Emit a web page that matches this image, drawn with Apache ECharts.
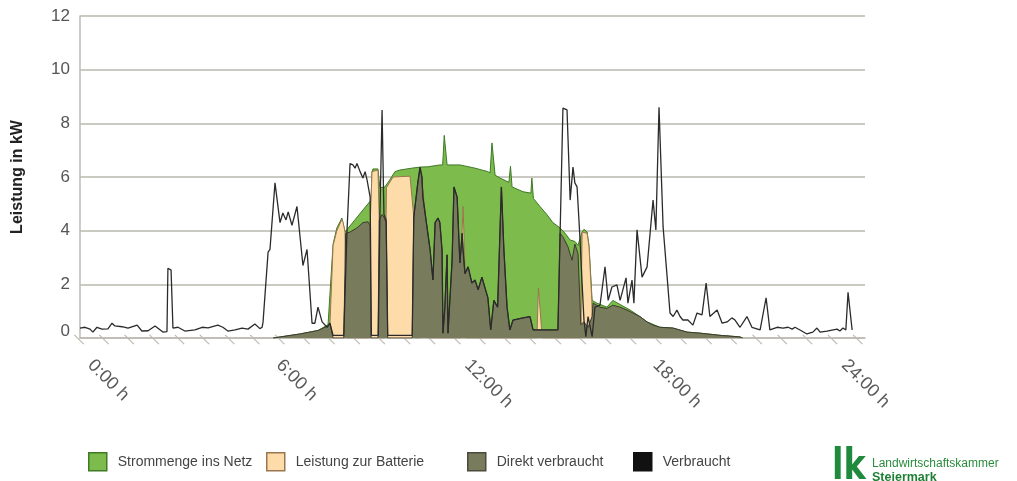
<!DOCTYPE html>
<html>
<head>
<meta charset="utf-8">
<script src="https://cdn.jsdelivr.net/npm/echarts@6/dist/echarts.min.js"></script>
<style>
html,body{margin:0;padding:0;background:#fff;}
#chart{width:1017px;height:481px;}
</style>
</head>
<body>
<div id="chart"></div>
<script>
// hour labels on the x axis
var hourLabels = [0, 6, 12, 18, 24];
var yTicks = [0, 2, 4, 6, 8, 10, 12];

// PV total envelope (top of green) [hour, kW]
var netz = [[6.15,0],[7.0,0.15],[7.58,0.28],[7.9,0.5],[8.06,3.5],[8.18,4.1],[8.34,4.47],[8.38,4.4],[8.44,3.95],[8.5,3.9],
[9.27,5.14],[9.3,6.2],[9.33,6.3],[9.49,6.3],[9.55,5.6],[9.71,5.63],[9.87,5.9],[10.03,6.2],[10.19,6.26],[10.57,6.33],
[10.83,6.37],[11.08,6.38],[11.46,6.45],[11.55,6.45],[11.6,7.55],[11.63,7.55],[11.69,6.45],[12.1,6.45],[12.58,6.33],
[12.99,6.2],[13.06,6.15],[13.12,7.27],[13.16,7.27],[13.22,6.07],[13.38,5.96],[13.66,5.8],[13.71,6.4],[13.76,5.63],
[14.11,5.45],[14.36,5.4],[14.39,5.96],[14.44,5.2],[14.65,4.9],[14.87,4.6],[15.06,4.3],[15.29,4.1],[15.45,3.9],
[15.61,3.65],[15.76,3.6],[15.86,3.45],[15.92,3.4],[15.99,3.95],[16.05,4.05],[16.15,3.95],[16.21,3.45],[16.31,1.4],
[16.46,1.3],[16.78,1.15],[16.97,1.4],[17.2,1.25],[17.52,1.04],[17.83,0.8],[18.06,0.6],[18.47,0.4],[18.89,0.37],
[19.33,0.22],[19.75,0.18],[20.38,0.1],[21.02,0.04],[21.1,0]];

// top of battery charging (beige) [hour, kW]
var batterie = [[7.9,0],[7.96,0.5],[8.06,3.45],[8.18,4.0],[8.34,4.42],[8.38,4.3],[8.44,3.95],[8.48,0],
[9.2,0],[9.24,4.2],[9.3,6.2],[9.33,6.26],[9.49,6.26],[9.53,4.4],[9.56,0],
[9.7,0],[9.76,5.6],[9.97,6.0],[10.51,6.03],[10.57,6.0],[10.63,4.5],[10.67,0],
[10.83,0],[10.86,5.9],[10.92,5.5],[11.0,4.6],[11.05,0],
[12.12,0],[12.17,4.0],[12.2,4.9],[12.26,2.6],[12.3,0],
[14.55,0],[14.6,1.86],[14.66,1.86],[14.72,0],
[15.95,0],[15.99,3.95],[16.05,4.0],[16.15,3.9],[16.21,3.4],[16.3,1.4],[16.33,0]];

// direct consumption (olive) [hour, kW]
var direkt = [[6.15,0],[7.0,0.15],[7.58,0.28],[7.9,0.45],[7.96,0.55],[8.06,0],[8.4,0],[8.46,3.9],[8.6,3.95],[8.82,4.1],
[9.01,4.3],[9.17,4.33],[9.24,4.2],[9.27,0],[9.49,0],[9.53,4.4],[9.62,4.6],[9.68,4.5],[9.75,4.3],[9.8,0],
[10.58,0],[10.63,4.5],[10.67,4.9],[10.76,5.8],[10.83,6.33],[10.89,6.0],[10.92,5.25],[11.05,4.14],[11.15,3.28],
[11.24,2.16],[11.31,4.3],[11.4,4.47],[11.46,4.3],[11.53,3.28],[11.56,0.18],[11.62,1.15],[11.69,3.1],[11.72,0.18],
[11.85,2.9],[11.91,5.63],[12.01,5.25],[12.1,2.8],[12.17,3.9],[12.2,3.28],[12.26,2.4],[12.36,2.65],[12.48,2.05],
[12.58,2.16],[12.68,1.8],[12.8,2.27],[12.9,1.86],[12.99,1.5],[13.08,0.3],[13.18,1.4],[13.3,1.15],[13.42,5.63],
[13.5,3.28],[13.6,1.15],[13.69,0.3],[13.79,0.67],[14.11,0.75],[14.33,0.8],[14.43,0.3],[14.87,0.3],[15.22,0.3],
[15.29,3.9],[15.38,3.77],[15.54,3.4],[15.67,2.9],[15.76,3.5],[15.86,3.15],[15.95,0.5],[16.05,0.6],[16.18,0.4],
[16.31,0.8],[16.34,1.3],[16.56,1.15],[16.78,1.1],[16.97,1.22],[17.2,1.15],[17.42,1.04],[17.61,0.93],[17.83,0.8],
[18.06,0.6],[18.25,0.48],[18.47,0.4],[18.89,0.37],[19.33,0.22],[19.75,0.18],[20.38,0.1],[21.02,0.04],[21.1,0]];

// total consumption (black line) [hour, kW]
var verbraucht = [[0,0.37],[0.16,0.4],[0.32,0.33],[0.41,0.22],[0.54,0.4],[0.7,0.33],[0.89,0.34],[1.02,0.55],[1.11,0.45],
[1.34,0.42],[1.53,0.37],[1.82,0.48],[1.97,0.26],[2.17,0.27],[2.39,0.45],[2.64,0.22],[2.77,0.24],[2.8,2.6],[2.9,2.53],
[2.96,0.37],[3.12,0.4],[3.34,0.26],[3.66,0.3],[3.89,0.4],[4.08,0.38],[4.39,0.48],[4.55,0.4],[4.71,0.26],[4.94,0.3],
[5.16,0.37],[5.35,0.33],[5.57,0.52],[5.73,0.35],[5.8,0.4],[5.83,0.6],[5.99,3.2],[6.05,3.3],[6.21,5.78],[6.37,4.3],
[6.46,4.66],[6.56,4.4],[6.63,4.7],[6.75,4.2],[6.91,4.9],[7.1,2.7],[7.23,3.3],[7.39,0.55],[7.48,0.55],[7.58,1.15],
[7.71,0.6],[7.87,0.4],[7.96,0.55],[8.06,0.1],[8.4,0.1],[8.5,3.9],[8.6,6.5],[8.69,6.45],[8.76,6.33],[8.82,6.5],
[8.92,6.2],[9.01,5.96],[9.08,6.2],[9.14,5.9],[9.24,5.25],[9.28,0.1],[9.5,0.1],[9.55,4.5],[9.62,8.5],[9.68,4.6],
[9.75,4.4],[9.8,0.1],[10.58,0.1],[10.63,4.5],[10.67,4.9],[10.76,5.8],[10.83,6.37],[10.89,6.0],[10.92,5.25],
[11.05,4.14],[11.15,3.28],[11.24,2.16],[11.31,4.3],[11.4,4.47],[11.46,4.3],[11.53,3.28],[11.56,0.18],[11.62,1.15],
[11.69,3.1],[11.72,0.18],[11.85,2.9],[11.91,5.63],[12.01,5.25],[12.1,2.8],[12.17,3.9],[12.2,3.28],[12.26,2.4],
[12.36,2.65],[12.48,2.05],[12.58,2.16],[12.68,1.8],[12.8,2.27],[12.9,1.86],[12.99,1.5],[13.08,0.3],[13.18,1.4],
[13.3,1.15],[13.42,5.63],[13.5,3.28],[13.6,1.15],[13.69,0.3],[13.79,0.67],[14.11,0.75],[14.33,0.8],[14.43,0.3],
[14.87,0.3],[15.22,0.3],[15.29,3.9],[15.38,8.57],[15.51,8.5],[15.61,5.14],[15.7,6.37],[15.76,5.78],[15.83,5.63],
[15.92,3.77],[15.99,2.05],[16.05,0.67],[16.11,0.05],[16.18,0.8],[16.31,0.05],[16.4,1.15],[16.56,1.22],[16.72,2.65],
[16.82,1.4],[16.94,1.9],[17.1,1.98],[17.2,1.4],[17.39,2.24],[17.45,1.3],[17.58,2.16],[17.64,1.3],[17.74,4.03],
[17.9,2.27],[18.06,2.65],[18.25,5.14],[18.34,4.03],[18.44,8.6],[18.57,4.14],[18.69,2.4],[18.79,0.93],[18.89,0.8],
[19.01,1.04],[19.11,0.8],[19.2,0.67],[19.36,0.67],[19.52,0.48],[19.65,0.93],[19.81,0.86],[19.94,2.05],[20.06,0.8],
[20.29,1.04],[20.45,0.55],[20.61,0.6],[20.76,0.75],[20.86,0.67],[21.02,0.4],[21.24,0.8],[21.4,0.4],[21.66,0.3],
[21.85,1.5],[21.97,0.3],[22.2,0.4],[22.39,0.37],[22.55,0.4],[22.68,0.33],[22.77,0.4],[22.93,0.3],[23.15,0.15],
[23.34,0.22],[23.47,0.37],[23.57,0.22],[23.79,0.26],[24.11,0.33],[24.2,0.26],[24.3,0.37],[24.39,0.3],[24.46,1.7],[24.59,0.3]];

var C = {
  green: '#7cbb4c', greenEdge: '#3f7a26',
  beige: '#fedcaa', beigeEdge: '#9a7650',
  olive: '#797b5d', oliveEdge: '#3b3b2e',
  black: '#2b2b2b'
};
var FONT = 'Liberation Sans, Arial, sans-serif';

var chart = echarts.init(document.getElementById('chart'), null, {renderer: 'canvas'});

function legendItem(left, name, color, border) {
  return {
    left: left, top: 452, orient: 'horizontal', icon: 'rect', padding: 0,
    itemWidth: 18, itemHeight: 18, selectedMode: false,
    textStyle: {color: '#444', fontSize: 14, fontFamily: FONT, padding: [0, 0, 0, 6]},
    data: [{name: name, itemStyle: {color: color, borderColor: border, borderWidth: 1.5}}]
  };
}

chart.setOption({
  animation: false,
  backgroundColor: '#fff',
  grid: {left: 80, right: 152, top: 16, bottom: 143, containLabel: false},
  legend: [
    legendItem(88, 'Strommenge ins Netz', C.green, C.greenEdge),
    legendItem(266, 'Leistung zur Batterie', C.beige, C.beigeEdge),
    legendItem(467, 'Direkt verbraucht', C.olive, '#4a4b3a'),
    legendItem(633, 'Verbraucht', '#111', '#111')
  ],
  xAxis: [{
    type: 'value', min: 0, max: 25, interval: 6,
    axisLine: {show: true, lineStyle: {color: '#bdbbb2', width: 1.5}},
    axisTick: {show: false},
    splitLine: {show: false},
    axisLabel: {
      rotate: -45, color: '#5a5a5a', fontSize: 18, fontFamily: FONT, margin: 14,
      padding: [0, 0, 0, 15],
      showMaxLabel: false,
      formatter: function (v) { return hourLabels.indexOf(v) >= 0 ? v + ':00 h' : ''; }
    }
  }, {
    type: 'value', min: 0, max: 25, interval: 0.8, position: 'bottom',
    axisLine: {show: false}, axisTick: {show: false}, splitLine: {show: false},
    axisLabel: {rotate: 45, color: '#bcbab1', fontSize: 14, margin: 0, showMaxLabel: false,
      formatter: function () { return '|'; }}
  }],
  yAxis: {
    type: 'value', min: 0, max: 12, interval: 2,
    name: 'Leistung in kW', nameLocation: 'middle', nameGap: 54,
    nameTextStyle: {fontSize: 16, fontWeight: 'bold', color: '#222', fontFamily: FONT},
    axisLine: {show: true, lineStyle: {color: '#bdbbb2', width: 1.5}},
    axisTick: {show: false},
    axisLabel: {color: '#555', fontSize: 17, fontFamily: FONT, margin: 10,
      formatter: function (v) {
        if (yTicks.indexOf(v) < 0) return '';
        return v === 0 ? '{z|0}' : String(v);
      },
      rich: {z: {color: '#555', fontSize: 17, fontFamily: FONT, padding: [0, 0, 14, 0]}}},
    splitLine: {lineStyle: {color: '#b9b7ae', width: 1.5}}
  },
  series: [{
    name: 'Strommenge ins Netz', type: 'line', data: netz, showSymbol: false, symbol: 'none',
    lineStyle: {color: C.greenEdge, width: 1}, itemStyle: {color: C.green},
    areaStyle: {color: C.green, opacity: 1}, z: 2
  }, {
    name: 'Leistung zur Batterie', type: 'line', data: batterie, showSymbol: false, symbol: 'none',
    lineStyle: {color: C.beigeEdge, width: 1}, itemStyle: {color: C.beige},
    areaStyle: {color: C.beige, opacity: 1}, z: 3
  }, {
    name: 'Direkt verbraucht', type: 'line', data: direkt, showSymbol: false, symbol: 'none',
    lineStyle: {color: C.oliveEdge, width: 1}, itemStyle: {color: C.olive},
    areaStyle: {color: C.olive, opacity: 1}, z: 4
  }, {
    name: 'Verbraucht', type: 'line', data: verbraucht, showSymbol: false, symbol: 'none',
    lineStyle: {color: C.black, width: 1.3}, itemStyle: {color: '#111'}, z: 5
  }],
  graphic: [{
    type: 'text', left: 832, top: 446, scaleX: 0.78,
    style: {text: 'lk', font: '900 43px "DejaVu Sans", sans-serif', fill: '#1f8a3c'}
  }, {
    type: 'text', left: 872, top: 458,
    style: {text: 'Landwirtschaftskammer', font: '12px "Liberation Sans", Arial, sans-serif', fill: '#2a8c3e'}
  }, {
    type: 'text', left: 872, top: 471,
    style: {text: 'Steiermark', font: 'bold 12.5px "Liberation Sans", Arial, sans-serif', fill: '#1f7f36'}
  }]
});
</script>
</body>
</html>
